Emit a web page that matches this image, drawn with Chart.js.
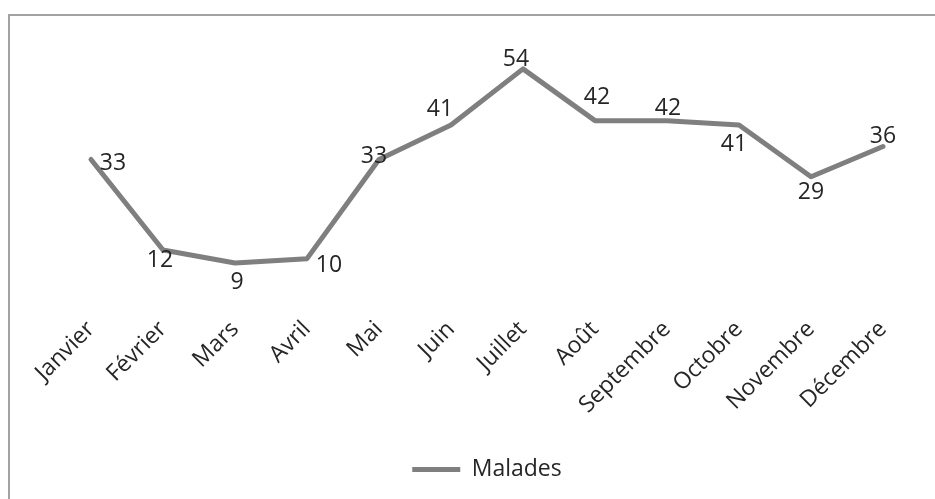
<!DOCTYPE html>
<html>
<head>
<meta charset="utf-8">
<script src="https://cdn.jsdelivr.net/npm/chart.js@4.4.0/dist/chart.umd.min.js"></script>
<style>
  html, body { margin:0; padding:0; background:#fff; overflow:hidden; }
  #frame { position:absolute; left:8px; top:14px; width:940px; height:500px;
           border-left:2px solid #a3a3a3; border-top:2px solid #a3a3a3; }
  #wrap { position:absolute; left:0; top:0; width:935px; height:499px; }
</style>
</head>
<body>
<div id="frame"></div>
<div id="wrap"><canvas id="chart"></canvas></div>
<script>
const months = ['Janvier','Février','Mars','Avril','Mai','Juin','Juillet','Août','Septembre','Octobre','Novembre','Décembre'];
const malades = [33, 12, 9, 10, 33, 41, 54, 42, 42, 41, 29, 36];
const yMin = 0, yMax = 60;

// where each value label sits relative to its point (dx, dy)
const labelOffsets = [[22,4],[-3,10],[2,20],[22,7],[-5,-3],[-11,-15],[-7,-9],[2,-23],[1,-12],[-5,20],[0,16],[0,-10]];

const valueLabels = {
  id: 'valueLabels',
  afterDatasetsDraw(chart) {
    const ctx = chart.ctx;
    const meta = chart.getDatasetMeta(0);
    ctx.save();
    ctx.font = '23px "Open Sans"';
    ctx.fillStyle = '#262626';
    ctx.textAlign = 'center';
    ctx.textBaseline = 'middle';
    meta.data.forEach((pt, i) => {
      const o = labelOffsets[i];
      ctx.fillText(String(malades[i]), pt.x + o[0], pt.y + o[1]);
    });
    ctx.restore();
  }
};

document.addEventListener('DOMContentLoaded', () => {
  const ctx = document.getElementById('chart').getContext('2d');
  new Chart(ctx, {
    type: 'line',
    data: {
      labels: months,
      datasets: [{
        label: 'Malades',
        data: malades,
        borderColor: '#7f7f7f',
        backgroundColor: '#7f7f7f',
        borderWidth: 5,
        borderJoinStyle: 'round',
        borderCapStyle: 'round',
        pointRadius: 0,
        tension: 0
      }]
    },
    options: {
      responsive: true,
      maintainAspectRatio: false,
      animation: false,
      layout: { padding: { left: 55, right: 16, top: 43, bottom: 8 } },
      scales: {
        x: {
          offset: true,
          grid: { display: false },
          border: { display: false },
          ticks: {
            minRotation: 45, maxRotation: 45,
            color: '#262626',
            font: { family: '"Open Sans"', size: 23 },
            padding: 6
          }
        },
        y: { display: false, min: yMin, max: yMax }
      },
      plugins: {
        legend: {
          position: 'bottom',
          labels: {
            usePointStyle: true,
            pointStyle: 'line',
            pointStyleWidth: 48,
            color: '#262626',
            font: { family: '"Open Sans"', size: 23 },
            padding: 33
          }
        },
        tooltip: { enabled: false }
      }
    },
    plugins: [valueLabels]
  });
});
</script>
</body>
</html>
